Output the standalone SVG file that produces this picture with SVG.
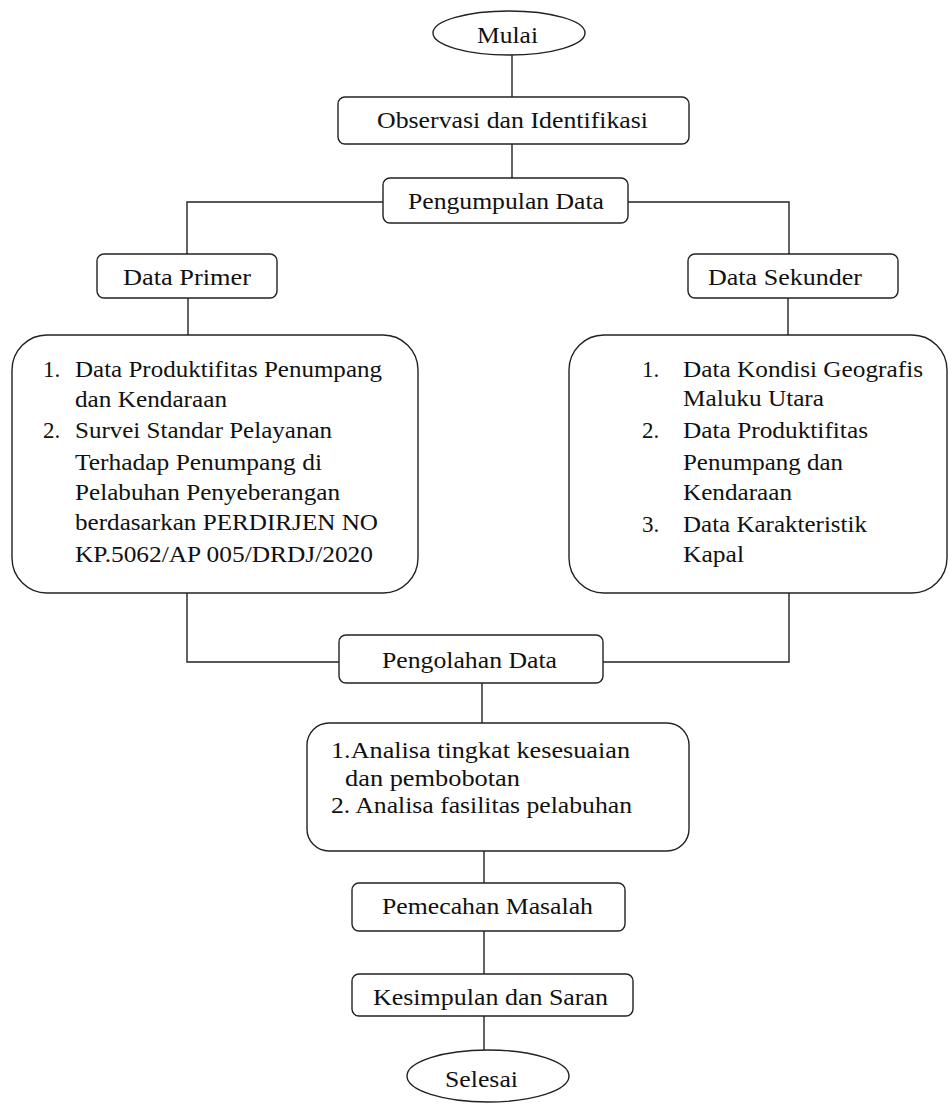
<svg xmlns="http://www.w3.org/2000/svg" width="949" height="1104" viewBox="0 0 949 1104">
<style>
.box{fill:#fff;stroke:#222;stroke-width:1.4}
.ln{fill:none;stroke:#222;stroke-width:1.4}
.t{font-family:'Liberation Serif','DejaVu Serif',serif;font-size:23px;fill:#111}
</style>
<rect width="949" height="1104" fill="#fff"/>
<g id="connectors">
<line class="ln" x1="512" y1="55" x2="512" y2="97"/>
<line class="ln" x1="512" y1="144" x2="512" y2="178"/>
<polyline class="ln" points="383,202 187,202 187,254"/>
<polyline class="ln" points="628,202 789,202 789,254"/>
<line class="ln" x1="188" y1="298" x2="188" y2="335"/>
<line class="ln" x1="788" y1="298" x2="788" y2="335"/>
<polyline class="ln" points="187,593 187,662 339,662"/>
<polyline class="ln" points="789,593 789,662 603,662"/>
<line class="ln" x1="482" y1="683" x2="482" y2="723"/>
<line class="ln" x1="484" y1="851" x2="484" y2="883"/>
<line class="ln" x1="484" y1="931" x2="484" y2="974"/>
<line class="ln" x1="484" y1="1016" x2="484" y2="1050"/>
</g>
<g id="mulai">
<ellipse class="box" cx="509" cy="33" rx="76" ry="22"/>
<text class="t" x="477" y="43" textLength="61" lengthAdjust="spacingAndGlyphs">Mulai</text>
</g>
<g id="observasi">
<rect class="box" x="338" y="97" width="351" height="47" rx="7"/>
<text class="t" x="377" y="128" textLength="271" lengthAdjust="spacingAndGlyphs">Observasi dan Identifikasi</text>
</g>
<g id="pengumpulan">
<rect class="box" x="383" y="178" width="245" height="45" rx="7"/>
<text class="t" x="408" y="209" textLength="196" lengthAdjust="spacingAndGlyphs">Pengumpulan Data</text>
</g>
<g id="data-primer">
<rect class="box" x="97" y="254" width="180" height="44" rx="7"/>
<text class="t" x="123" y="285" textLength="128" lengthAdjust="spacingAndGlyphs">Data Primer</text>
</g>
<g id="data-sekunder">
<rect class="box" x="688" y="254" width="210" height="44" rx="7"/>
<text class="t" x="708" y="285" textLength="154" lengthAdjust="spacingAndGlyphs">Data Sekunder</text>
</g>
<g id="primer-list">
<rect class="box" x="12" y="335" width="406" height="258" rx="35"/>
<text class="t" x="43" y="377">1.</text>
<text class="t" x="75" y="377" textLength="307" lengthAdjust="spacingAndGlyphs">Data Produktifitas Penumpang</text>
<text class="t" x="75" y="407" textLength="152" lengthAdjust="spacingAndGlyphs">dan Kendaraan</text>
<text class="t" x="43" y="438">2.</text>
<text class="t" x="75" y="438" textLength="257" lengthAdjust="spacingAndGlyphs">Survei Standar Pelayanan</text>
<text class="t" x="75" y="470" textLength="247" lengthAdjust="spacingAndGlyphs">Terhadap Penumpang di</text>
<text class="t" x="75" y="500" textLength="265" lengthAdjust="spacingAndGlyphs">Pelabuhan Penyeberangan</text>
<text class="t" x="75" y="530" textLength="303" lengthAdjust="spacingAndGlyphs">berdasarkan PERDIRJEN NO</text>
<text class="t" x="75" y="562" textLength="298" lengthAdjust="spacingAndGlyphs">KP.5062/AP 005/DRDJ/2020</text>
</g>
<g id="sekunder-list">
<rect class="box" x="569" y="335" width="378" height="258" rx="35"/>
<text class="t" x="642" y="377">1.</text>
<text class="t" x="683" y="377" textLength="240" lengthAdjust="spacingAndGlyphs">Data Kondisi Geografis</text>
<text class="t" x="683" y="406" textLength="141" lengthAdjust="spacingAndGlyphs">Maluku Utara</text>
<text class="t" x="642" y="438">2.</text>
<text class="t" x="683" y="438" textLength="185" lengthAdjust="spacingAndGlyphs">Data Produktifitas</text>
<text class="t" x="683" y="470" textLength="160" lengthAdjust="spacingAndGlyphs">Penumpang dan</text>
<text class="t" x="683" y="500" textLength="109" lengthAdjust="spacingAndGlyphs">Kendaraan</text>
<text class="t" x="642" y="532">3.</text>
<text class="t" x="683" y="532" textLength="184" lengthAdjust="spacingAndGlyphs">Data Karakteristik</text>
<text class="t" x="683" y="562" textLength="61" lengthAdjust="spacingAndGlyphs">Kapal</text>
</g>
<g id="pengolahan">
<rect class="box" x="339" y="635" width="264" height="48" rx="7"/>
<text class="t" x="382" y="668" textLength="175" lengthAdjust="spacingAndGlyphs">Pengolahan Data</text>
</g>
<g id="analisa">
<rect class="box" x="307" y="723" width="382" height="128" rx="22"/>
<text class="t" x="331" y="758" textLength="299" lengthAdjust="spacingAndGlyphs">1.Analisa tingkat kesesuaian</text>
<text class="t" x="345" y="786" textLength="175" lengthAdjust="spacingAndGlyphs">dan pembobotan</text>
<text class="t" x="331" y="813" textLength="301" lengthAdjust="spacingAndGlyphs">2. Analisa fasilitas pelabuhan</text>
</g>
<g id="pemecahan">
<rect class="box" x="352" y="883" width="273" height="48" rx="7"/>
<text class="t" x="382" y="914" textLength="211" lengthAdjust="spacingAndGlyphs">Pemecahan Masalah</text>
</g>
<g id="kesimpulan">
<rect class="box" x="352" y="974" width="281" height="42" rx="7"/>
<text class="t" x="373" y="1005" textLength="235" lengthAdjust="spacingAndGlyphs">Kesimpulan dan Saran</text>
</g>
<g id="selesai">
<ellipse class="box" cx="488" cy="1076" rx="81" ry="26"/>
<text class="t" x="445" y="1087" textLength="73" lengthAdjust="spacingAndGlyphs">Selesai</text>
</g>
</svg>
